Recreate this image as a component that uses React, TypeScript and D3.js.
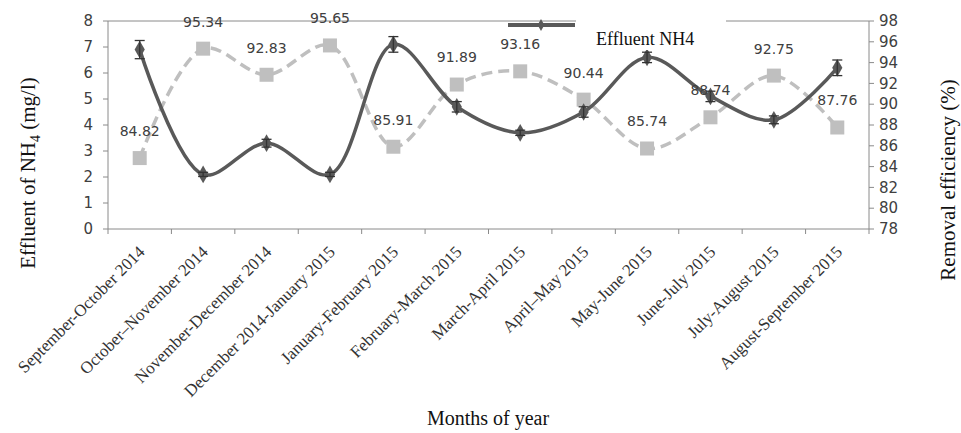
import * as d3 from "d3";

const width = 961;
const height = 433;

const months = [
  "September-October 2014",
  "October–November 2014",
  "November-December 2014",
  "December 2014-January 2015",
  "January-February 2015",
  "February-March 2015",
  "March-April 2015",
  "April–May 2015",
  "May-June 2015",
  "June-July 2015",
  "July-August 2015",
  "August-September 2015",
];

const effluent = [6.9, 2.1, 3.3, 2.1, 7.1, 4.7, 3.7, 4.5, 6.6, 5.1, 4.2, 6.2];
const effluentErr = [0.35, 0.08, 0.15, 0.08, 0.3, 0.2, 0.1, 0.2, 0.2, 0.2, 0.15, 0.3];
const removal = [84.82, 95.34, 92.83, 95.65, 85.91, 91.89, 93.16, 90.44, 85.74, 88.74, 92.75, 87.76];

const leftTicks = [0, 1, 2, 3, 4, 5, 6, 7, 8];
const rightTicks = [78, 80, 82, 84, 86, 88, 90, 92, 94, 96, 98];

const margin = { left: 108, right: 869, top: 21, bottom: 229 };

const App = () => {
  const x = d3
    .scaleBand<string>()
    .domain(months)
    .range([margin.left, margin.right]);
  const yL = d3.scaleLinear().domain([0, 8]).range([margin.bottom, margin.top]);
  const yR = d3.scaleLinear().domain([78, 98]).range([margin.bottom, margin.top]);
  const cx = (i: number) => (x(months[i]) as number) + x.bandwidth() / 2;

  const line = d3.line<number>().curve(d3.curveCatmullRom.alpha(0.5));
  const effPath = line(effluent.map((v, i) => [cx(i), yL(v)] as any));
  const remPath = line(removal.map((v, i) => [cx(i), yR(v)] as any));

  const diamond = d3.symbol().type(d3.symbolDiamond).size(90)();
  const axisColor = "#8a8a8a";
  const labelColor = "#404040";
  const sans = "DejaVu Sans, Verdana, sans-serif";
  const serif = "Liberation Serif, Times New Roman, serif";

  return (
    <svg
      width={width}
      height={height}
      style={{ position: "absolute", left: 0, top: 0, background: "#fff" }}
    >
      {/* plot frame */}
      <line x1={margin.left} x2={margin.right} y1={margin.top} y2={margin.top} stroke={axisColor} />
      <line x1={margin.left} x2={margin.left} y1={margin.top} y2={margin.bottom} stroke={axisColor} />
      <line x1={margin.right} x2={margin.right} y1={margin.top} y2={margin.bottom} stroke={axisColor} />
      <line x1={margin.left} x2={margin.right} y1={margin.bottom} y2={margin.bottom} stroke={axisColor} />

      {/* left axis */}
      {leftTicks.map(t => (
        <g key={"l" + t}>
          <line x1={margin.left - 5} x2={margin.left} y1={yL(t)} y2={yL(t)} stroke={axisColor} />
          <text x={margin.left - 15} y={yL(t)} dy="0.35em" textAnchor="end" fontFamily={sans} fontSize={15} fill={labelColor}>
            {t}
          </text>
        </g>
      ))}

      {/* right axis */}
      {rightTicks.map(t => (
        <g key={"r" + t}>
          <line x1={margin.right} x2={margin.right + 5} y1={yR(t)} y2={yR(t)} stroke={axisColor} />
          <text x={margin.right + 10} y={yR(t)} dy="0.35em" textAnchor="start" fontFamily={sans} fontSize={15} fill={labelColor}>
            {t}
          </text>
        </g>
      ))}

      {/* bottom axis ticks at category boundaries */}
      {months.map((m, i) => (
        <line key={"b" + i} x1={x(m)} x2={x(m)} y1={margin.bottom} y2={margin.bottom + 5} stroke={axisColor} />
      ))}
      <line x1={margin.right} x2={margin.right} y1={margin.bottom} y2={margin.bottom + 5} stroke={axisColor} />

      {/* category labels */}
      {months.map((m, i) => (
        <text
          key={"c" + i}
          transform={`translate(${cx(i) + 6},${margin.bottom + 24}) rotate(-45)`}
          textAnchor="end"
          fontFamily={serif}
          fontSize={17}
          fill="#333"
        >
          {m}
        </text>
      ))}

      {/* removal efficiency */}
      <path d={remPath as string} fill="none" stroke="#bfbfbf" strokeWidth={3.5} strokeDasharray="11,6" />
      {removal.map((v, i) => (
        <rect key={"s" + i} x={cx(i) - 7} y={yR(v) - 7} width={14} height={14} fill="#bfbfbf" />
      ))}

      {/* effluent */}
      <path d={effPath as string} fill="none" stroke="#595959" strokeWidth={3.5} />
      {effluent.map((v, i) => (
        <g key={"e" + i}>
          <path d={diamond as string} transform={`translate(${cx(i)},${yL(v)})`} fill="#595959" />
          <line x1={cx(i)} x2={cx(i)} y1={yL(v - effluentErr[i])} y2={yL(v + effluentErr[i])} stroke="#333" strokeWidth={1.3} />
          <line x1={cx(i) - 5} x2={cx(i) + 5} y1={yL(v - effluentErr[i])} y2={yL(v - effluentErr[i])} stroke="#333" strokeWidth={1.3} />
          <line x1={cx(i) - 5} x2={cx(i) + 5} y1={yL(v + effluentErr[i])} y2={yL(v + effluentErr[i])} stroke="#333" strokeWidth={1.3} />
        </g>
      ))}

      {/* data labels */}
      {removal.map((v, i) => (
        <text key={"d" + i} x={cx(i)} y={yR(v) - 27} dy="0.35em" textAnchor="middle" fontFamily={sans} fontSize={14} fill={labelColor}>
          {v.toFixed(2)}
        </text>
      ))}

      {/* legend */}
      <rect x={576} y={10} width={150} height={40} fill="#fff" />
      <line x1={508} x2={575} y1={25} y2={25} stroke="#595959" strokeWidth={4} />
      <path d={d3.symbol().type(d3.symbolDiamond).size(40)() as string} transform="translate(541,25)" fill="#595959" />
      <text x={596} y={45} fontFamily={serif} fontSize={18} fill="#111">
        Effluent NH4
      </text>

      {/* axis titles */}
      <text transform="translate(28,173) rotate(-90)" textAnchor="middle" dy="0.35em" fontFamily={serif} fontSize={21} fill="#111">
        Effluent of NH<tspan fontSize={14} dy="5">4</tspan>
        <tspan dy="-5"> (mg/l)</tspan>
      </text>
      <text transform="translate(948,180) rotate(-90)" textAnchor="middle" dy="0.35em" fontFamily={serif} fontSize={21} fill="#111">
        Removal efficiency (%)
      </text>
      <text x={488} y={425} textAnchor="middle" fontFamily={serif} fontSize={20} fill="#111">
        Months of year
      </text>
    </svg>
  );
};

export default App;
